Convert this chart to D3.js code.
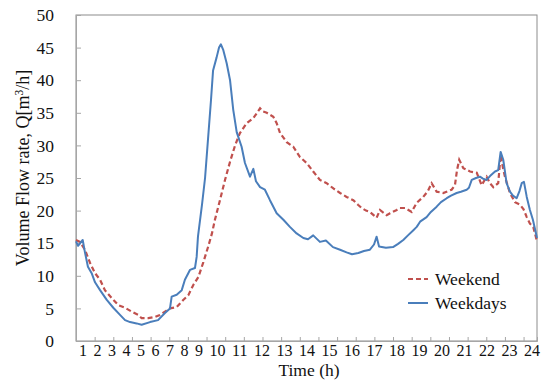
<!DOCTYPE html>
<html>
<head>
<meta charset="utf-8">
<script src="https://cdn.jsdelivr.net/npm/d3@7"></script>
<style>
  body { margin: 0; background: #fff; }
  text { font-family: "Liberation Serif", "Times New Roman", serif; fill: #111; }
</style>
</head>
<body>
<svg id="chart" width="541" height="383"></svg>
<script>
// data (x in tick units from the left edge, y in m3/h)
var hourLabels = d3.range(1, 25)
var yTicks = [0, 5, 10, 15, 20, 25, 30, 35, 40, 45, 50]

var weekdaysT = [0, 0.11, 0.36, 0.48, 0.64, 0.84, 1.02, 1.29, 1.65, 2.0, 2.36, 2.63, 2.9, 3.25, 3.52, 3.97, 4.4, 4.77, 5.04, 5.13, 5.4, 5.67, 5.84, 6.11, 6.38, 6.47, 6.54, 6.76, 6.92, 7.08, 7.24, 7.35, 7.54, 7.67, 7.77, 7.9, 8.08, 8.26, 8.43, 8.62, 8.88, 9.06, 9.33, 9.51, 9.65, 9.87, 10.13, 10.4, 10.76, 11.12, 11.47, 11.83, 12.19, 12.44, 12.72, 13.08, 13.4, 13.78, 14.16, 14.51, 14.8, 15.14, 15.44, 15.76, 15.98, 16.12, 16.25, 16.62, 17.0, 17.27, 17.55, 17.8, 18.09, 18.27, 18.45, 18.8, 19.03, 19.34, 19.57, 19.88, 20.11, 20.41, 20.64, 20.95, 21.07, 21.22, 21.45, 21.66, 21.82, 22.02, 22.2, 22.47, 22.64, 22.77, 22.91, 23.09, 23.27, 23.43, 23.63, 23.78, 23.9, 24.02, 24.17, 24.34, 24.5, 24.72]
var weekdaysQ = [15.3, 14.6, 15.5, 13.6, 11.4, 10.4, 9.0, 7.8, 6.3, 5.1, 4.0, 3.2, 2.9, 2.7, 2.5, 2.9, 3.2, 4.3, 5.0, 6.8, 7.1, 7.8, 9.4, 10.9, 11.2, 12.9, 16, 21, 25, 31, 37, 41.5, 43.5, 45, 45.5, 44.6, 42.6, 40, 35.5, 32, 29.8, 27.3, 25.2, 26.4, 24.5, 23.6, 23.2, 21.6, 19.6, 18.6, 17.5, 16.5, 15.8, 15.6, 16.2, 15.2, 15.4, 14.4, 14.0, 13.6, 13.3, 13.5, 13.8, 14.0, 14.8, 16.0, 14.5, 14.3, 14.4, 14.9, 15.5, 16.2, 17.0, 17.5, 18.3, 19.0, 19.8, 20.6, 21.3, 21.9, 22.3, 22.7, 22.9, 23.2, 23.5, 24.7, 25.0, 25.2, 24.9, 24.7, 25.3, 26.0, 26.2, 29.0, 27.8, 24.2, 22.9, 22.3, 21.9, 23.0, 24.2, 24.4, 22.1, 20.1, 18.6, 15.8]

var weekendT = [0, 0.21, 0.48, 0.75, 1.02, 1.29, 1.55, 1.91, 2.27, 2.63, 2.99, 3.34, 3.52, 3.88, 4.24, 4.5, 4.77, 5.04, 5.4, 5.75, 6.02, 6.29, 6.56, 6.83, 7.09, 7.29, 7.45, 7.72, 7.99, 8.26, 8.53, 8.79, 9.15, 9.51, 9.71, 9.87, 10.03, 10.23, 10.58, 10.76, 10.94, 11.3, 11.65, 12.01, 12.37, 12.72, 13.08, 13.44, 13.8, 14.16, 14.51, 14.87, 15.12, 15.32, 15.55, 15.76, 16.12, 16.3, 16.66, 16.84, 17.2, 17.37, 17.64, 18.0, 18.27, 18.62, 18.87, 19.07, 19.34, 19.69, 20.14, 20.32, 20.43, 20.55, 20.77, 21.13, 21.49, 21.75, 22.02, 22.2, 22.38, 22.64, 22.77, 22.9, 23.0, 23.27, 23.54, 23.81, 24.0, 24.17, 24.34, 24.52, 24.72]
var weekendQ = [15.5, 15.2, 14.0, 12.0, 10.4, 9.4, 7.8, 6.6, 5.5, 5.1, 4.5, 4.0, 3.5, 3.5, 3.7, 4.0, 4.5, 5.0, 5.2, 6.3, 7.0, 8.6, 9.8, 12.1, 14.5, 16.5, 18.6, 21.6, 24.7, 27.5, 30.0, 31.9, 33.4, 34.2, 35.0, 35.7, 35.2, 35.0, 34.4, 33.4, 31.9, 30.5, 29.8, 28.2, 27.3, 26.0, 24.7, 24.2, 23.4, 22.7, 22.1, 21.6, 20.9, 20.4, 20.0, 19.8, 18.9, 20.1, 19.3, 19.6, 20.1, 20.4, 20.4, 19.8, 21.2, 22.1, 23.0, 24.2, 22.9, 22.7, 23.2, 23.9, 26.2, 27.8, 26.5, 26.0, 25.8, 23.9, 25.2, 24.2, 23.6, 24.2, 28.5, 26.5, 25.2, 22.7, 21.3, 20.9, 20.2, 19.0, 18.0, 17.5, 15.3]

var seriesNames = ["Weekend", "Weekdays"]
var seriesColors = ["#c0504d", "#4a7ebb"]

// layout
var margin = {top: 15, right: 4, bottom: 42, left: 76}
var width = 541, height = 383
var plotW = width - margin.left - margin.right
var plotH = height - margin.top - margin.bottom

var svg = d3.select("#chart")
var g = svg.append("g").attr("transform", "translate(" + margin.left + "," + margin.top + ")")

var x = d3.scaleLinear().domain([0, 24.72]).range([0, plotW])
var y = d3.scaleLinear().domain([0, 50]).range([plotH, 0])

// frame
g.append("rect")
    .attr("x", 0).attr("y", 0)
    .attr("width", plotW).attr("height", plotH)
    .attr("fill", "none")
    .attr("stroke", "#8c8c8c")
    .attr("stroke-width", 1)

// y axis
var yAxis = g.append("g")
    .call(d3.axisLeft(y).tickValues(yTicks).tickSize(-5).tickPadding(22))
yAxis.select(".domain").attr("stroke", "#a6a6a6")
yAxis.selectAll(".tick line").attr("stroke", "#a6a6a6")
yAxis.selectAll(".tick text")
    .style("font-family", "'Liberation Serif', serif")
    .style("font-size", "17.5px")
    .attr("fill", "#111")

// x axis: ticks only, labels typed underneath
var xAxis = g.append("g")
    .attr("transform", "translate(0," + plotH + ")")
    .call(d3.axisBottom(x).tickValues(hourLabels).tickSize(-4).tickFormat(""))
xAxis.select(".domain").attr("stroke", "#a6a6a6")
xAxis.selectAll(".tick line").attr("stroke", "#a6a6a6")

var labelGroup = svg.append("g")
var cursor = 79
var gap = 6.5
hourLabels.forEach(function(h) {
    var t = labelGroup.append("text")
        .attr("y", 356)
        .attr("font-size", "16px")
        .text(h)
    var w = t.node().getComputedTextLength()
    t.attr("x", cursor)
    cursor += w + gap
})

// axis titles
svg.append("text")
    .attr("x", 309).attr("y", 376)
    .attr("text-anchor", "middle")
    .attr("font-size", "17.5px")
    .text("Time (h)")

var yTitle = svg.append("text")
    .attr("transform", "translate(29,168) rotate(-90)")
    .attr("text-anchor", "middle")
    .attr("font-size", "18px")
yTitle.append("tspan").text("Volume Flow rate, Q[m")
yTitle.append("tspan").attr("dy", -6).attr("font-size", "11.5px").text("3")
yTitle.append("tspan").attr("dy", 6).text("/h]")

// lines
var line = d3.line()
    .x(function(d) { return x(d[0]) })
    .y(function(d) { return y(d[1]) })

var weekend = weekendT.map(function(t, i) { return [t, weekendQ[i]] })
var weekdays = weekdaysT.map(function(t, i) { return [t, weekdaysQ[i]] })

g.append("path")
    .datum(weekend)
    .attr("d", line)
    .attr("fill", "none")
    .attr("stroke", seriesColors[0])
    .attr("stroke-width", 2.2)
    .attr("stroke-dasharray", "5,3")

g.append("path")
    .datum(weekdays)
    .attr("d", line)
    .attr("fill", "none")
    .attr("stroke", seriesColors[1])
    .attr("stroke-width", 2)
    .attr("stroke-linejoin", "round")

// legend
var legend = svg.append("g").attr("transform", "translate(408,279)")
seriesNames.forEach(function(name, i) {
    var row = legend.append("g").attr("transform", "translate(0," + (i * 24) + ")")
    row.append("line")
        .attr("x1", 0).attr("x2", 20)
        .attr("y1", 0).attr("y2", 0)
        .attr("stroke", seriesColors[i])
        .attr("stroke-width", 2)
        .attr("stroke-dasharray", i == 0 ? "5,3" : null)
    row.append("text")
        .attr("x", 27).attr("y", 6)
        .attr("font-size", "17.5px")
        .text(name)
})
</script>
</body>
</html>
